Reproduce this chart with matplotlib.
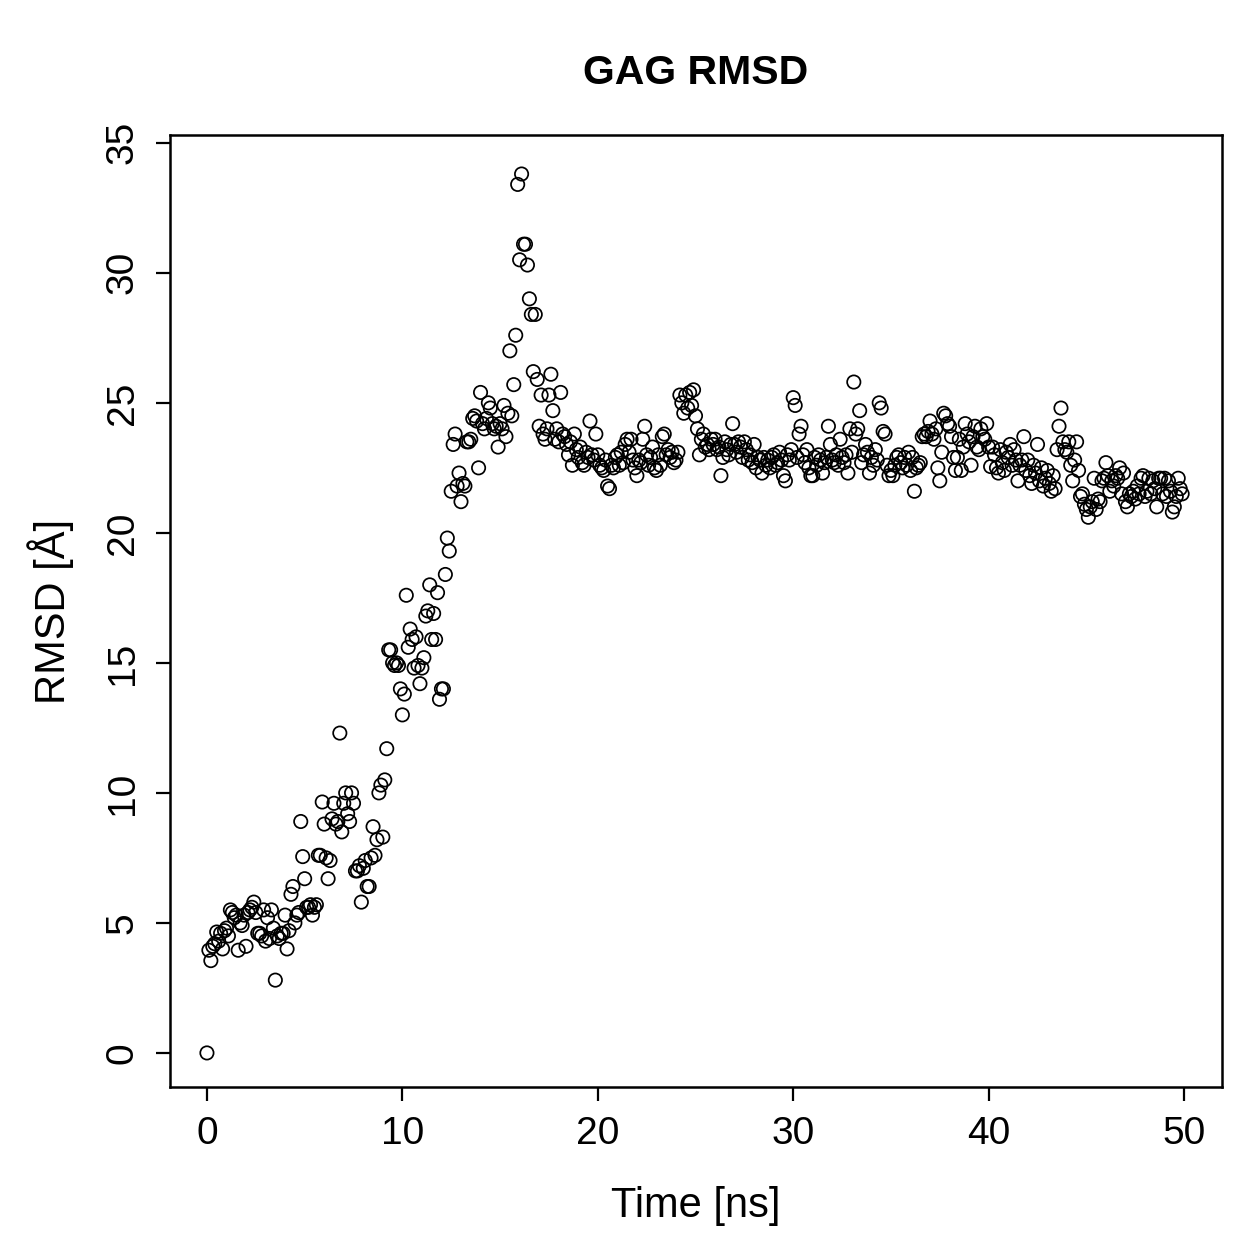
import numpy as np
import matplotlib
matplotlib.use("Agg")
import matplotlib.pyplot as plt

plt.rcParams['font.family'] = ['Liberation Sans', 'DejaVu Sans']

# RMSD values, one per 0.1 ns (t = 0.0 ... 49.9), grouped by ns
rmsd_00_10 = [0.0, 3.95, 3.55, 4.1, 4.2, 4.65, 4.3, 4.6, 4.0, 4.7,
              4.8, 4.5, 5.5, 5.4, 5.2, 5.3, 3.95, 5.0, 4.9, 5.3,
              4.1, 5.4, 5.5, 5.6, 5.8, 5.4, 4.6, 4.6, 4.5, 5.5,
              4.3, 5.2, 4.4, 5.5, 4.8, 2.8, 4.5, 4.4, 4.6, 4.6,
              5.3, 4.0, 4.7, 6.1, 6.4, 5.0, 5.3, 5.4, 8.9, 7.55,
              6.7, 5.6, 5.6, 5.7, 5.3, 5.6, 5.7, 7.6, 7.6, 9.65,
              8.8, 7.5, 6.7, 7.4, 9.0, 9.6, 8.8, 8.9, 12.3, 8.5,
              9.6, 10.0, 9.2, 8.9, 10.0, 9.6, 7.0, 7.0, 7.2, 5.8,
              7.1, 7.4, 6.4, 6.4, 7.5, 8.7, 7.6, 8.2, 10.0, 10.3,
              8.3, 10.5, 11.7, 15.5, 15.5, 15.0, 14.9, 15.0, 14.9, 14.0]
rmsd_10_20 = [13.0, 13.8, 17.6, 15.6, 16.3, 15.9, 14.8, 16.0, 14.9, 14.2,
              14.8, 15.2, 16.8, 17.0, 18.0, 15.9, 16.9, 15.9, 17.7, 13.6,
              14.0, 14.0, 18.4, 19.8, 19.3, 21.6, 23.4, 23.8, 21.8, 22.3,
              21.2, 21.9, 21.8, 23.5, 23.5, 23.6, 24.4, 24.5, 24.3, 22.5,
              25.4, 24.2, 24.0, 24.4, 25.0, 24.8, 24.2, 24.0, 24.1, 23.3,
              24.2, 24.0, 24.9, 23.7, 24.6, 27.0, 24.5, 25.7, 27.6, 33.4,
              30.5, 33.8, 31.1, 31.1, 30.3, 29.0, 28.4, 26.2, 28.4, 25.9,
              24.1, 25.3, 23.8, 23.6, 24.0, 25.3, 26.1, 24.7, 23.6, 24.0,
              23.5, 25.4, 23.8, 23.7, 23.4, 23.0, 23.5, 22.6, 23.8, 23.2,
              22.9, 23.3, 22.7, 22.6, 23.1, 22.9, 24.3, 23.0, 22.8, 23.8]
rmsd_20_30 = [23.0, 22.6, 22.5, 22.4, 22.8, 21.8, 21.7, 22.6, 22.5, 22.9,
              23.0, 22.6, 23.1, 22.7, 23.4, 23.6, 23.1, 23.6, 22.8, 22.5,
              22.2, 22.8, 22.7, 23.6, 24.1, 23.0, 22.6, 22.9, 23.3, 22.5,
              22.4, 23.0, 22.6, 23.7, 23.8, 23.0, 23.2, 22.9, 23.1, 22.7,
              22.8, 23.1, 25.3, 25.0, 24.6, 25.3, 24.8, 25.4, 24.9, 25.5,
              24.5, 24.0, 23.0, 23.6, 23.8, 23.3, 23.4, 23.2, 23.6, 23.4,
              23.6, 23.2, 23.3, 22.2, 22.9, 23.5, 23.2, 23.0, 23.4, 24.2,
              23.4, 23.1, 23.5, 23.3, 22.9, 23.5, 23.2, 22.8, 23.0, 22.7,
              23.4, 22.5, 22.9, 22.8, 22.3, 22.9, 22.6, 22.8, 22.5, 22.9,
              23.0, 22.6, 22.7, 23.1, 22.8, 22.2, 22.0, 23.0, 22.8, 23.2]
rmsd_30_40 = [25.2, 24.9, 22.9, 23.8, 24.1, 23.0, 22.7, 23.2, 22.5, 22.2,
              22.2, 22.9, 22.6, 23.0, 22.8, 22.3, 22.7, 22.9, 24.1, 23.4,
              22.8, 22.7, 23.0, 22.6, 23.6, 22.9, 22.7, 23.0, 22.3, 24.0,
              23.1, 25.8, 23.8, 24.0, 24.7, 22.7, 23.0, 23.4, 23.1, 22.3,
              22.9, 22.6, 23.2, 22.8, 25.0, 24.8, 23.9, 23.8, 22.6, 22.2,
              22.4, 22.2, 22.6, 22.9, 23.0, 22.7, 22.5, 22.9, 22.6, 23.1,
              22.4, 22.9, 21.6, 22.5, 22.6, 22.7, 23.7, 23.8, 23.7, 23.9,
              24.3, 23.8, 23.6, 24.0, 22.5, 22.0, 23.1, 24.6, 24.5, 24.2,
              24.1, 23.7, 22.9, 22.4, 22.9, 23.6, 22.4, 23.3, 24.2, 23.8,
              23.5, 22.6, 23.7, 24.1, 23.3, 23.2, 24.0, 23.7, 23.6, 24.2]
rmsd_40_50 = [23.3, 22.55, 23.3, 23.0, 22.5, 22.3, 23.2, 22.7, 22.4, 23.1,
              22.9, 23.4, 22.6, 23.2, 22.8, 22.0, 22.6, 22.8, 23.7, 22.4,
              22.8, 22.2, 21.9, 22.6, 22.3, 23.4, 22.0, 22.5, 21.8, 22.1,
              22.4, 21.9, 21.6, 22.2, 21.7, 23.2, 24.1, 24.8, 23.5, 23.2,
              23.1, 23.5, 22.6, 22.0, 22.8, 23.5, 22.4, 21.4, 21.5, 21.1,
              20.9, 20.6, 21.0, 21.2, 22.1, 20.9, 21.3, 21.2, 22.0, 22.1,
              22.7, 22.2, 21.6, 22.0, 21.8, 22.2, 22.1, 22.5, 21.5, 22.3,
              21.2, 21.0, 21.5, 21.4, 21.6, 21.3, 21.8, 21.5, 22.1, 22.2,
              21.4, 21.6, 22.1, 21.5, 22.0, 21.7, 21.0, 22.1, 22.1, 21.5,
              22.1, 21.4, 22.0, 21.6, 20.8, 21.0, 21.4, 22.1, 21.7, 21.5]

rmsd = rmsd_00_10 + rmsd_10_20 + rmsd_20_30 + rmsd_30_40 + rmsd_40_50
time_ns = [i * 0.1 for i in range(len(rmsd))]

xticks = [0, 10, 20, 30, 40, 50]
yticks = [0, 5, 10, 15, 20, 25, 30, 35]

W = H = 1259
fig = plt.figure(figsize=(W / 100, H / 100), dpi=100)
ax = fig.add_axes([170 / W, 1 - 1087 / H, (1222 - 170) / W, (1087 - 135) / H])

ax.scatter(time_ns, rmsd, s=92, facecolors='none', edgecolors='black', linewidths=1.25)

ax.set_xlim(-1.89, 51.94)
ax.set_ylim(-1.31, 35.3)
ax.set_xticks(xticks)
ax.set_yticks(yticks)
ax.set_yticklabels([str(v) for v in yticks], rotation=90, va='center')
ax.tick_params(axis='both', direction='out', length=10, width=1.6, labelsize=28, pad=11)
for s in ax.spines.values():
    s.set_linewidth(1.8)

ax.set_xlabel('Time [ns]', fontsize=30, labelpad=24)
ax.set_ylabel('RMSD [Å]', fontsize=30, labelpad=22)
ax.set_title('GAG RMSD', fontsize=29.5, fontweight='bold', pad=37)

fig.savefig('out.png', dpi=100)
